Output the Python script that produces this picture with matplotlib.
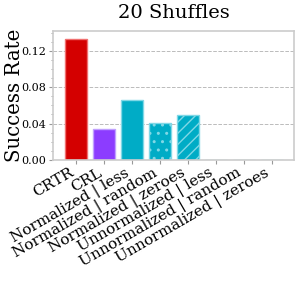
import matplotlib
matplotlib.use('Agg')
import matplotlib.pyplot as plt
from matplotlib.ticker import MultipleLocator

plt.rcParams['font.family'] = 'DejaVu Serif'
plt.rcParams['hatch.color'] = 'white'

methods = ['CRTR', 'CRL', 'Normalized | less', 'Normalized | random', 'Normalized | zeroes',
           'Unnormalized | less', 'Unnormalized | random', 'Unnormalized | zeroes']
rates = [0.1335, 0.034, 0.066, 0.041, 0.049, 0.0, 0.0, 0.0]
colors = ['#d40000', '#8c3cff', '#00acc6', '#00acc6', '#00acc6', '#00acc6', '#00acc6', '#00acc6']
edges = ['#f07070', '#c0a0ff', '#80d8e6', '#80d8e6', '#80d8e6', '#80d8e6', '#80d8e6', '#80d8e6']
hatches = ['', '', '', '..', '///', '', '..', '///']

fig = plt.figure(figsize=(2.99, 2.99), dpi=100)
ax = fig.add_axes([0.178, 0.465, 0.806, 0.432])
xs = list(range(len(methods)))
bars = ax.bar(xs, rates, width=0.78, color=colors, edgecolor=edges, linewidth=1.0)
for b, h in zip(bars, hatches):
    b.set_hatch(h)

ax.set_xlim(-0.82, 7.79)
ax.set_ylim(0, 0.142)
ax.yaxis.set_minor_locator(MultipleLocator(0.01))
ax.set_yticks([0, 0.04, 0.08, 0.12])
ax.set_yticklabels(['0.00', '0.04', '0.08', '0.12'], fontsize=8)
ax.set_xticks(xs)
ax.set_xticklabels(methods, rotation=30, ha='right', fontsize=11)
ax.tick_params(axis='x', length=3, color='#999999', pad=1)
ax.tick_params(axis='y', which='major', length=3, color='#999999', pad=2)
ax.tick_params(axis='y', which='minor', length=1.5, color='#999999')
ax.grid(axis='y', linestyle='--', color='#bbbbbb', linewidth=0.7)
ax.set_axisbelow(True)
for s in ax.spines.values():
    s.set_color('#cccccc')
    s.set_linewidth(1.2)
ax.set_ylabel('Success Rate', fontsize=14.2)
ax.yaxis.set_label_coords(-0.122, 0.5)
ax.set_title('20 Shuffles', fontsize=14, pad=9)

fig.savefig('out.png', dpi=100)
